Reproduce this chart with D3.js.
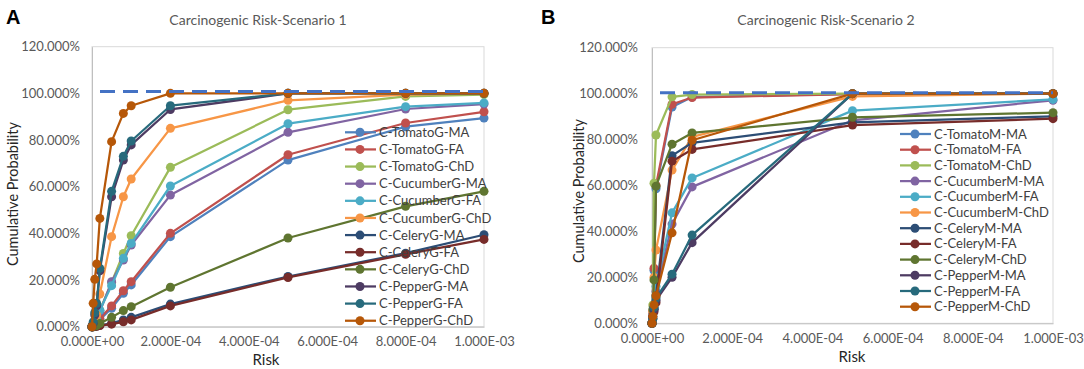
<!DOCTYPE html>
<html><head><meta charset="utf-8">
<script src="https://cdn.jsdelivr.net/npm/d3@7"></script>
<style>body{margin:0;background:#fff} svg{display:block} text{font-family:Lato,"Open Sans",sans-serif}</style>
</head><body><svg id="c" width="1084" height="369"></svg>
<script>
// ---------- data ----------
const riskA = [0, 3e-6, 7e-6, 1.2e-5, 2e-5, 5e-5, 8e-5, 1e-4, 2e-4, 5e-4, 8e-4, 1e-3];
const riskB = [0, 2e-6, 5e-6, 1e-5, 5e-5, 1e-4, 5e-4, 1e-3];

const namesA = ["C-TomatoG-MA","C-TomatoG-FA","C-TomatoG-ChD","C-CucumberG-MA","C-CucumberG-FA","C-CucumberG-ChD",
                "C-CeleryG-MA","C-CeleryG-FA","C-CeleryG-ChD","C-PepperG-MA","C-PepperG-FA","C-PepperG-ChD"];
const namesB = ["C-TomatoM-MA","C-TomatoM-FA","C-TomatoM-ChD","C-CucumberM-MA","C-CucumberM-FA","C-CucumberM-ChD",
                "C-CeleryM-MA","C-CeleryM-FA","C-CeleryM-ChD","C-PepperM-MA","C-PepperM-FA","C-PepperM-ChD"];
const seriesColors = ["#4F81BD","#C0504D","#9BBB59","#8064A2","#4BACC6","#F79646",
                      "#2C4D75","#772C2A","#5F7530","#4D3B62","#276A7C","#B65708"];

// Scenario 1 (percent)
const tomatoG_MA   = [0, 0.2, 0.7, 1.3, 3.0, 7.9, 14.3, 17.9, 38.6, 71.4, 85.7, 89.4];
const tomatoG_FA   = [0, 0.2, 0.8, 1.5, 3.5, 8.9, 15.4, 19.3, 40.0, 73.7, 87.3, 92.1];
const tomatoG_ChD  = [0, 0.3, 1.5, 3.0, 7.0, 19.0, 31.4, 39.0, 68.3, 93.0, 98.7, 99.5];
const cucumberG_MA = [0, 0.3, 1.5, 3.0, 6.5, 19.3, 28.6, 35.0, 56.4, 83.3, 93.3, 95.4];
const cucumberG_FA = [0, 0.3, 1.5, 3.0, 7.1, 17.6, 29.3, 35.7, 60.3, 87.0, 94.3, 95.9];
const cucumberG_ChD= [0, 0.5, 2.0, 5.0, 14.0, 38.6, 55.7, 63.3, 85.0, 97.0, 99.5, 100];
const celeryG_MA   = [0, 0, 0.1, 0.3, 0.6, 1.4, 2.9, 4.0, 9.7, 21.5, 31.5, 39.4];
const celeryG_FA   = [0, 0, 0.1, 0.2, 0.5, 1.1, 2.1, 2.9, 8.9, 21.1, 31.0, 37.4];
const celeryG_ChD  = [0, 0.1, 0.3, 0.6, 1.4, 4.0, 6.9, 8.6, 16.9, 38.0, 51.6, 58.0];
const pepperG_MA   = [0, 1.5, 5.0, 9.0, 24.0, 55.7, 71.4, 77.9, 93.1, 100, 100, 100];
const pepperG_FA   = [0, 2.0, 6.0, 10.0, 25.0, 58.0, 73.0, 79.6, 94.7, 100, 100, 100];
const pepperG_ChD  = [0, 10.0, 20.3, 26.9, 46.4, 79.3, 91.4, 94.7, 100, 100, 100, 100];

// Scenario 2 (percent)
const tomatoM_MA   = [0, 4, 23, 58.6, 94.2, 98.5, 99.9, 100];
const tomatoM_FA   = [0, 5, 24, 60.0, 95.4, 98.3, 99.8, 100];
const tomatoM_ChD  = [0, 8, 61, 82.0, 98.6, 99.6, 100, 100];
const cucumberM_MA = [0, 2, 6, 14, 43.2, 59.4, 88.4, 97.1];
const cucumberM_FA = [0, 2, 7, 16, 48.1, 63.3, 92.6, 97.5];
const cucumberM_ChD= [0, 5, 20, 31.9, 66.7, 81.2, 98.8, 100];
const celeryM_MA   = [0, 3, 6, 12, 73.0, 78.6, 87.5, 90.1];
const celeryM_FA   = [0, 3, 5, 9, 70.6, 75.7, 86.3, 89.1];
const celeryM_ChD  = [0, 6, 18.9, 59.7, 78.0, 82.9, 89.7, 91.7];
const pepperM_MA   = [0, 2, 6, 10, 20.0, 35.1, 100, 100];
const pepperM_FA   = [0, 2, 7, 11, 21.4, 38.4, 100, 100];
const pepperM_ChD  = [0, 3, 8, 12, 39.4, 79.7, 100, 100];

const seriesA = [tomatoG_MA, tomatoG_FA, tomatoG_ChD, cucumberG_MA, cucumberG_FA, cucumberG_ChD,
                 celeryG_MA, celeryG_FA, celeryG_ChD, pepperG_MA, pepperG_FA, pepperG_ChD];
const seriesB = [tomatoM_MA, tomatoM_FA, tomatoM_ChD, cucumberM_MA, cucumberM_FA, cucumberM_ChD,
                 celeryM_MA, celeryM_FA, celeryM_ChD, pepperM_MA, pepperM_FA, pepperM_ChD];

const yTicks = [0, 20, 40, 60, 80, 100, 120];
const yTickLabels = ["0.000%","20.000%","40.000%","60.000%","80.000%","100.000%","120.000%"];
const xTicks = [0, 2e-4, 4e-4, 6e-4, 8e-4, 1e-3];
const xTickLabels = ["0.000E+00","2.000E-04","4.000E-04","6.000E-04","8.000E-04","1.000E-03"];
const referenceA = 100.8, referenceB = 100.4;

// ---------- drawing ----------
const svg = d3.select("#c");

function panel(cfg) {
  const g = svg.append("g");
  const x = d3.scaleLinear().domain([0, 1e-3]).range([cfg.left, cfg.right]);
  const y = d3.scaleLinear().domain([0, 120]).range([cfg.bottom, cfg.top]);

  g.append("rect").attr("x", cfg.left).attr("y", cfg.top)
    .attr("width", cfg.right - cfg.left).attr("height", cfg.bottom - cfg.top)
    .attr("fill", "none").attr("stroke", "#D9D9D9").attr("stroke-width", 1);

  const yAxis = g.append("g").attr("transform", `translate(${cfg.left},0)`)
    .call(d3.axisLeft(y).tickValues(yTicks).tickSize(0).tickPadding(cfg.yPad)
      .tickFormat((d, i) => yTickLabels[i]));
  yAxis.select(".domain").attr("stroke", "#BFBFBF");
  yAxis.selectAll("text").attr("fill", "#595959").style("font-size", "13px");

  const xAxis = g.append("g").attr("transform", `translate(0,${cfg.bottom})`)
    .call(d3.axisBottom(x).tickValues(xTicks).tickSize(0).tickPadding(cfg.xPad)
      .tickFormat((d, i) => xTickLabels[i]));
  xAxis.select(".domain").attr("stroke", "#BFBFBF");
  xAxis.selectAll("text").attr("fill", "#595959").style("font-size", "13px");

  const line = d3.line().x((d, i) => x(cfg.risk[i])).y(d => y(d));
  cfg.series.forEach((vals, s) => {
    const sg = g.append("g");
    sg.append("path").attr("d", line(vals)).attr("fill", "none")
      .attr("stroke", seriesColors[s]).attr("stroke-width", 2.25).attr("stroke-linejoin", "round");
    sg.selectAll("circle").data(vals).join("circle")
      .attr("cx", (d, i) => x(cfg.risk[i])).attr("cy", d => y(d)).attr("r", 4.5)
      .attr("fill", seriesColors[s]);
  });

  g.append("line").attr("x1", x(0)).attr("x2", x(1e-3))
    .attr("y1", y(cfg.ref)).attr("y2", y(cfg.ref))
    .attr("stroke", "#4472C4").attr("stroke-width", 3).attr("stroke-dasharray", "15,8")
    .attr("stroke-dashoffset", -8);

  cfg.names.forEach((n, i) => {
    const ly = cfg.legY + i * cfg.legStep;
    g.append("line").attr("x1", cfg.legX - 15).attr("x2", cfg.legX + 16)
      .attr("y1", ly).attr("y2", ly).attr("stroke", seriesColors[i]).attr("stroke-width", 2.25);
    g.append("circle").attr("cx", cfg.legX).attr("cy", ly).attr("r", 4.5).attr("fill", seriesColors[i]);
    g.append("text").attr("x", cfg.legX + 19).attr("y", ly).attr("dy", "0.35em")
      .attr("fill", "#404040").style("font-size", "13px").text(n);
  });

  g.append("text").attr("x", cfg.titleX).attr("y", 20).attr("dy", "0.35em")
    .attr("text-anchor", "middle").attr("fill", "#595959").style("font-size", "14px").text(cfg.title);
  g.append("text").attr("x", cfg.riskX).attr("y", cfg.riskY).attr("dy", "0.35em")
    .attr("text-anchor", "middle").attr("fill", "#262626").style("font-size", "15px").text("Risk");
  g.append("text").attr("transform", `translate(${cfg.yTitleX},${cfg.yTitleY}) rotate(-90)`)
    .attr("dy", "0.35em").attr("text-anchor", "middle").attr("fill", "#262626")
    .style("font-size", "14.5px").text("Cumulative Probability");
  g.append("text").attr("x", cfg.labX).attr("y", 24).attr("fill", "#000")
    .style("font-family", "'Liberation Sans',Arial,sans-serif").style("font-weight", "bold")
    .style("font-size", "20px").text(cfg.label);
}

panel({left: 92, right: 484, top: 46.7, bottom: 326.7, risk: riskA, series: seriesA, names: namesA,
  ref: referenceA, legX: 360, legY: 132.3, legStep: 17.13, title: "Carcinogenic Risk-Scenario 1",
  titleX: 258, riskX: 266, riskY: 360, yTitleX: 13, yTitleY: 194, labX: 6, label: "A", yPad: 12, xPad: 10});
panel({left: 652, right: 1053, top: 47.7, bottom: 323.3, risk: riskB, series: seriesB, names: namesB,
  ref: referenceB, legX: 915, legY: 134, legStep: 15.7, title: "Carcinogenic Risk-Scenario 2",
  titleX: 826, riskX: 852, riskY: 357, yTitleX: 579, yTitleY: 191, labX: 541, label: "B", yPad: 14, xPad: 10});
</script></body></html>
